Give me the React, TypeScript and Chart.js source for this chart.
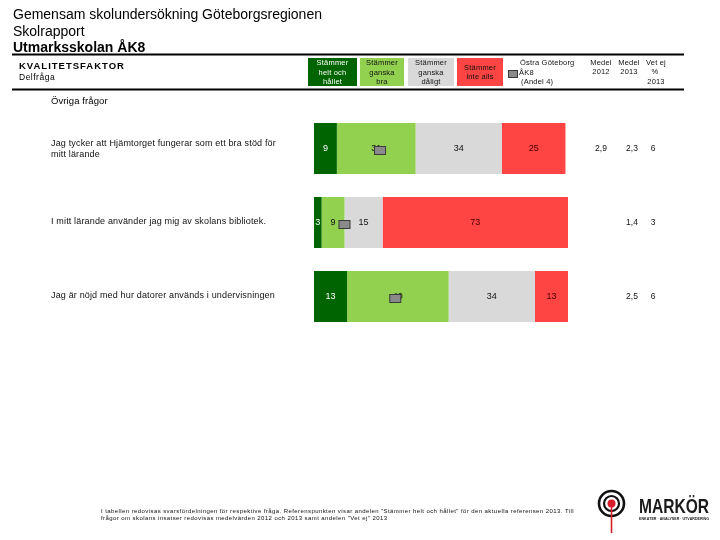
import { useEffect, useRef } from "react";
import { Chart, registerables } from "chart.js";

Chart.register(...registerables);

// Questions (one entry per bar, split into display lines)
const questions: string[][] = [
  ["Jag tycker att Hjämtorget fungerar som ett bra stöd för", "mitt lärande"],
  ["I mitt lärande använder jag mig av skolans bibliotek."],
  ["Jag är nöjd med hur datorer används i undervisningen"],
];
const categories = ["Hjämtorget", "Bibliotek", "Datorer"];

// Answer distribution, percent
const heltOchHallet = [9, 3, 13];
const ganskaBra = [31, 9, 40];
const ganskaDaligt = [34, 15, 34];
const inteAlls = [25, 73, 13];

// Reference point: Östra Göteborg ÅK8 (Andel 4)
const referens = [26, 12, 32];

// Right-hand columns
const medel2012 = ["2,9", "", ""];
const medel2013 = ["2,3", "1,4", "2,5"];
const vetEj2013 = ["6", "3", "6"];

const seriesNames = [
  ["Stämmer", "helt och", "hållet"],
  ["Stämmer", "ganska", "bra"],
  ["Stämmer", "ganska", "dåligt"],
  ["Stämmer", "inte alls"],
];
const seriesColors = ["#006400", "#92D050", "#D9D9D9", "#FF4444"];
const labelColors = ["#ffffff", "#111111", "#111111", "#4a0000"];

const FONT = '"Liberation Sans", Arial, sans-serif';

function spacing(ctx: CanvasRenderingContext2D, px: number) {
  (ctx as any).letterSpacing = `${px}px`;
}

// Draws text squeezed/stretched horizontally to a target width
function fitText(ctx: CanvasRenderingContext2D, text: string, x: number, y: number, width: number) {
  const w = ctx.measureText(text).width;
  ctx.save();
  ctx.translate(x, y);
  ctx.scale(width / w, 1);
  ctx.fillText(text, 0, 0);
  ctx.restore();
}

const pagePlugin = {
  id: "pageDecor",
  beforeDraw(chart: any) {
    const ctx: CanvasRenderingContext2D = chart.ctx;
    ctx.save();
    ctx.fillStyle = "#ffffff";
    ctx.fillRect(0, 0, chart.width, chart.height);

    // Title block
    ctx.fillStyle = "#000";
    ctx.textBaseline = "alphabetic";
    ctx.textAlign = "left";
    ctx.font = `14px ${FONT}`;
    ctx.fillText("Gemensam skolundersökning Göteborgsregionen", 13, 19);
    ctx.fillText("Skolrapport", 13, 36);
    ctx.font = `bold 14px ${FONT}`;
    ctx.fillText("Utmarksskolan ÅK8", 13, 52);

    // Rules
    ctx.fillStyle = "#000";
    ctx.fillRect(12, 53.5, 672, 2);
    ctx.fillRect(12, 88.5, 672, 2);

    ctx.font = `bold 9.5px ${FONT}`;
    spacing(ctx, 1);
    ctx.fillText("KVALITETSFAKTOR", 19, 68.5);
    ctx.font = `8.5px ${FONT}`;
    spacing(ctx, 0.5);
    ctx.fillText("Delfråga", 19, 80);

    // Legend boxes
    const boxes = [
      [308, 357],
      [360, 404],
      [408, 454],
      [457, 503],
    ];
    ctx.font = `7.5px ${FONT}`;
    spacing(ctx, 0.2);
    ctx.textAlign = "center";
    ctx.textBaseline = "middle";
    boxes.forEach(([x0, x1], i) => {
      ctx.fillStyle = seriesColors[i];
      ctx.fillRect(x0, 58, x1 - x0, 28);
      ctx.fillStyle = i === 0 ? "#ffffff" : "#111111";
      const lines = seriesNames[i];
      const cx = (x0 + x1) / 2;
      const startY = 72.5 - ((lines.length - 1) * 9.5) / 2;
      lines.forEach((t, k) => ctx.fillText(t, cx, startY + k * 9.5));
    });

    // Reference legend
    ctx.fillStyle = "#8a8a8a";
    ctx.fillRect(508, 70.5, 9, 7);
    ctx.strokeStyle = "#3a3a3a";
    ctx.lineWidth = 1;
    ctx.strokeRect(508.5, 70.5, 9, 7);
    ctx.fillStyle = "#111";
    ctx.textAlign = "left";
    ctx.fillText("Östra Göteborg", 520, 63);
    ctx.fillText("ÅK8", 519, 73);
    ctx.fillText("(Andel 4)", 521, 82);

    // Column headers
    ctx.textAlign = "center";
    ctx.fillText("Medel", 601, 63);
    ctx.fillText("2012", 601, 72);
    ctx.fillText("Medel", 629, 63);
    ctx.fillText("2013", 629, 72);
    ctx.fillText("Vet ej", 656, 63);
    ctx.fillText("%", 655, 72);
    ctx.fillText("2013", 656, 82);

    // Section heading
    ctx.textAlign = "left";
    ctx.font = `9.5px ${FONT}`;
    spacing(ctx, 0.1);
    ctx.fillStyle = "#000";
    ctx.fillText("Övriga frågor", 51, 101);

    // Footnote
    ctx.font = `6px ${FONT}`;
    spacing(ctx, 0.42);
    ctx.fillStyle = "#111";
    ctx.fillText(
      "I tabellen redovisas svarsfördelningen för respektive fråga. Referenspunkten visar andelen \"Stämmer helt och hållet\" för den aktuella referensen 2013. Till",
      101,
      511
    );
    ctx.fillText(
      "frågor om skolans insatser redovisas medelvärden 2012 och 2013 samt andelen \"Vet ej\" 2013",
      101,
      518
    );
    spacing(ctx, 0);

    // Logo
    ctx.strokeStyle = "#111";
    ctx.lineWidth = 2.6;
    ctx.beginPath();
    ctx.arc(611.5, 503.5, 12.5, 0, Math.PI * 2);
    ctx.stroke();
    ctx.lineWidth = 2.2;
    ctx.beginPath();
    ctx.arc(611.5, 503.5, 7.5, 0, Math.PI * 2);
    ctx.stroke();
    ctx.strokeStyle = "#d81e2a";
    ctx.lineWidth = 1.6;
    ctx.beginPath();
    ctx.moveTo(611.5, 503.5);
    ctx.lineTo(611.5, 533);
    ctx.stroke();
    ctx.fillStyle = "#d81e2a";
    ctx.beginPath();
    ctx.arc(611.5, 503.5, 4, 0, Math.PI * 2);
    ctx.fill();

    ctx.fillStyle = "#1a1a1a";
    ctx.textBaseline = "alphabetic";
    ctx.textAlign = "left";
    ctx.font = `bold 20px ${FONT}`;
    fitText(ctx, "MARKÖR", 639, 513, 70);
    ctx.font = `bold 4px ${FONT}`;
    fitText(ctx, "ENKÄTER · ANALYSER · UTVÄRDERING", 639, 520, 70);
    ctx.restore();
  },
  afterDatasetsDraw(chart: any) {
    const ctx: CanvasRenderingContext2D = chart.ctx;
    const xScale = chart.scales.x;
    const yScale = chart.scales.y;
    ctx.save();

    // Question texts
    ctx.textAlign = "left";
    ctx.textBaseline = "middle";
    ctx.font = `9px ${FONT}`;
    spacing(ctx, 0.16);
    ctx.fillStyle = "#111";
    questions.forEach((lines, j) => {
      const cy = yScale.getPixelForValue(j);
      const start = cy - 1 - (lines.length - 1) * 3.5;
      lines.forEach((t, k) => ctx.fillText(t, 51, start + k * 10.5));
    });
    spacing(ctx, 0);

    // Segment value labels
    ctx.textAlign = "center";
    ctx.font = `9px ${FONT}`;
    chart.data.datasets.forEach((ds: any, i: number) => {
      const meta = chart.getDatasetMeta(i);
      meta.data.forEach((el: any, j: number) => {
        const v = ds.data[j];
        if (!v) return;
        ctx.fillStyle = labelColors[i];
        ctx.fillText(String(v), (el.x + el.base) / 2, el.y);
      });
    });

    // Reference markers
    referens.forEach((v, j) => {
      const x = xScale.getPixelForValue(v);
      const y = yScale.getPixelForValue(j) + 2;
      ctx.fillStyle = "#8a8a8a";
      ctx.fillRect(x - 5.5, y - 4, 11, 8);
      ctx.strokeStyle = "#3a3a3a";
      ctx.lineWidth = 1;
      ctx.strokeRect(x - 5.5, y - 4, 11, 8);
    });

    // Right-hand columns
    ctx.fillStyle = "#111";
    ctx.font = `8.5px ${FONT}`;
    categories.forEach((_, j) => {
      const y = yScale.getPixelForValue(j);
      ctx.fillText(medel2012[j], 601, y);
      ctx.fillText(medel2013[j], 632, y);
      ctx.fillText(vetEj2013[j], 653, y);
    });
    ctx.restore();
  },
};

export default function App() {
  const ref = useRef<HTMLCanvasElement>(null);
  useEffect(() => {
    if (!ref.current) return;
    const data = [heltOchHallet, ganskaBra, ganskaDaligt, inteAlls];
    const chart = new Chart(ref.current, {
      type: "bar",
      data: {
        labels: categories,
        datasets: data.map((d, i) => ({
          label: seriesNames[i].join(" "),
          data: d,
          backgroundColor: seriesColors[i],
          borderWidth: 0,
          barPercentage: 0.69,
          categoryPercentage: 1,
        })),
      },
      options: {
        indexAxis: "y",
        responsive: false,
        animation: false,
        devicePixelRatio: 1,
        layout: { padding: { left: 314, right: 152, top: 111.5, bottom: 206.5 } },
        plugins: { legend: { display: false }, tooltip: { enabled: false } },
        scales: {
          x: { stacked: true, min: 0, max: 100, display: false },
          y: { stacked: true, display: false },
        },
      },
      plugins: [pagePlugin],
    });
    return () => chart.destroy();
  }, []);
  return (
    <div style={{ position: "fixed", left: 0, top: 0, width: 720, height: 540 }}>
      <canvas ref={ref} width={720} height={540} style={{ width: 720, height: 540 }} />
    </div>
  );
}
